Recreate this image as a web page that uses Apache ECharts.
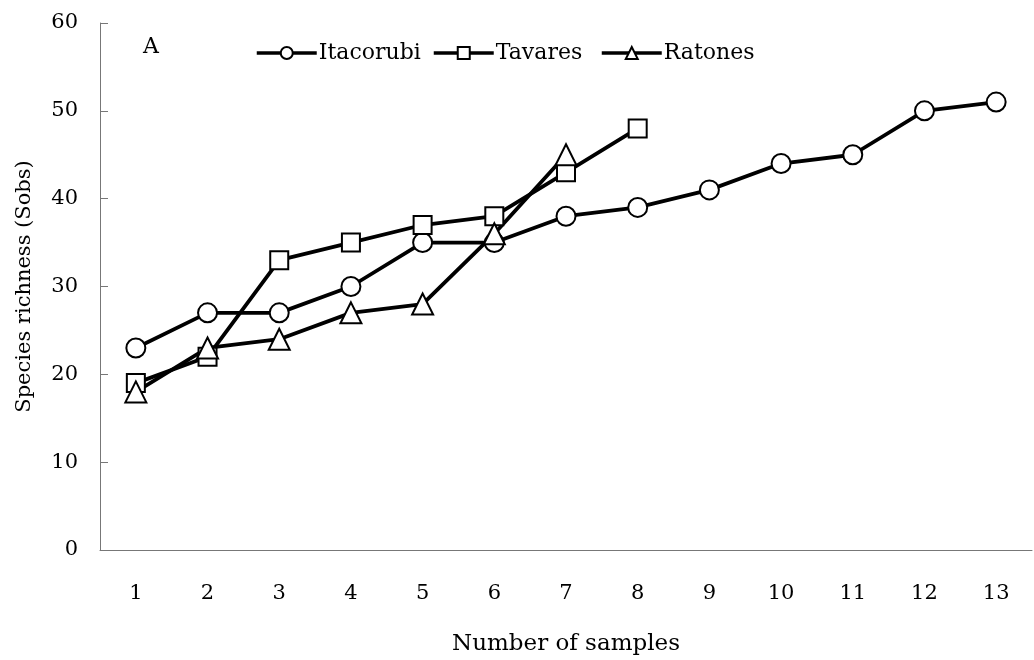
<!DOCTYPE html>
<html><head><meta charset="utf-8">
<script src="https://cdn.jsdelivr.net/npm/echarts@6/dist/echarts.min.js"></script>
<style>html,body{margin:0;padding:0;background:#fff}#c{width:1034px;height:660px}</style>
</head><body><div id="c"></div>
<script>
const categories = ['1','2','3','4','5','6','7','8','9','10','11','12','13'];
const itacorubi = [23, 27, 27, 30, 35, 35, 38, 39, 41, 44, 45, 50, 51];
const tavares = [19, 22, 33, 35, 37, 38, 43, 48];
const ratones = [18, 23, 24, 27, 28, 36, 45];
const yTicks = [0, 10, 20, 30, 40, 50, 60];
const seriesNames = ['Itacorubi', 'Tavares', 'Ratones'];

const font = 'DejaVu Serif';
const chart = echarts.init(document.getElementById('c'));
function mk(name, data, symbol, size) {
  return {
    name, type: 'line', data, symbol, symbolSize: size, showAllSymbol: true,
    lineStyle: { color: '#000', width: 3.8 },
    itemStyle: { color: '#fff', borderColor: '#000', borderWidth: 2 },
    z: 3
  };
}
const legendLefts = [250, 427, 595];
const legends = seriesNames.map((n, i) => ({
  top: 37, left: legendLefts[i], itemWidth: 60, itemHeight: 15,
  lineStyle: { width: 3.5, color: '#000' },
  itemStyle: { borderWidth: 2 },
  textStyle: { fontFamily: font, fontSize: 22, color: '#000', padding: [0,0,0,-3] },
  data: [n]
}));
chart.setOption({
  animation: false,
  textStyle: { fontFamily: font },
  grid: { left: 100, right: 2, top: 23, bottom: 110, containLabel: false, outerBoundsMode: 'none' },
  graphic: [{ type: 'text', left: 143, top: 36, style: { text: 'A', font: '22px ' + font, fill: '#000' } }],
  legend: legends,
  xAxis: {
    type: 'category', data: categories, boundaryGap: true,
    name: 'Number of samples', nameLocation: 'middle', nameGap: 83,
    nameTextStyle: { fontFamily: font, fontSize: 23, color: '#000' },
    axisLine: { lineStyle: { color: '#777', width: 1 } },
    axisTick: { inside: true, length: 7, lineStyle: { color: '#777' } },
    axisLabel: { fontFamily: font, fontSize: 21, color: '#000', margin: 33 },
    splitLine: { show: false }
  },
  yAxis: {
    type: 'value', min: yTicks[0], max: yTicks[yTicks.length - 1], interval: 10,
    name: 'Species richness (Sobs)', nameLocation: 'middle', nameGap: 65,
    nameTextStyle: { fontFamily: font, fontSize: 21, color: '#000' },
    axisLine: { show: true, lineStyle: { color: '#777', width: 1 } },
    axisTick: { show: true, inside: true, length: 8, lineStyle: { color: '#777' } },
    axisLabel: { fontFamily: font, fontSize: 21, color: '#000', margin: 22 },
    splitLine: { show: false }
  },
  series: [
    mk('Itacorubi', itacorubi, 'circle', 19),
    mk('Tavares', tavares, 'rect', 18),
    mk('Ratones', ratones, 'triangle', 21)
  ]
});
</script></body></html>
